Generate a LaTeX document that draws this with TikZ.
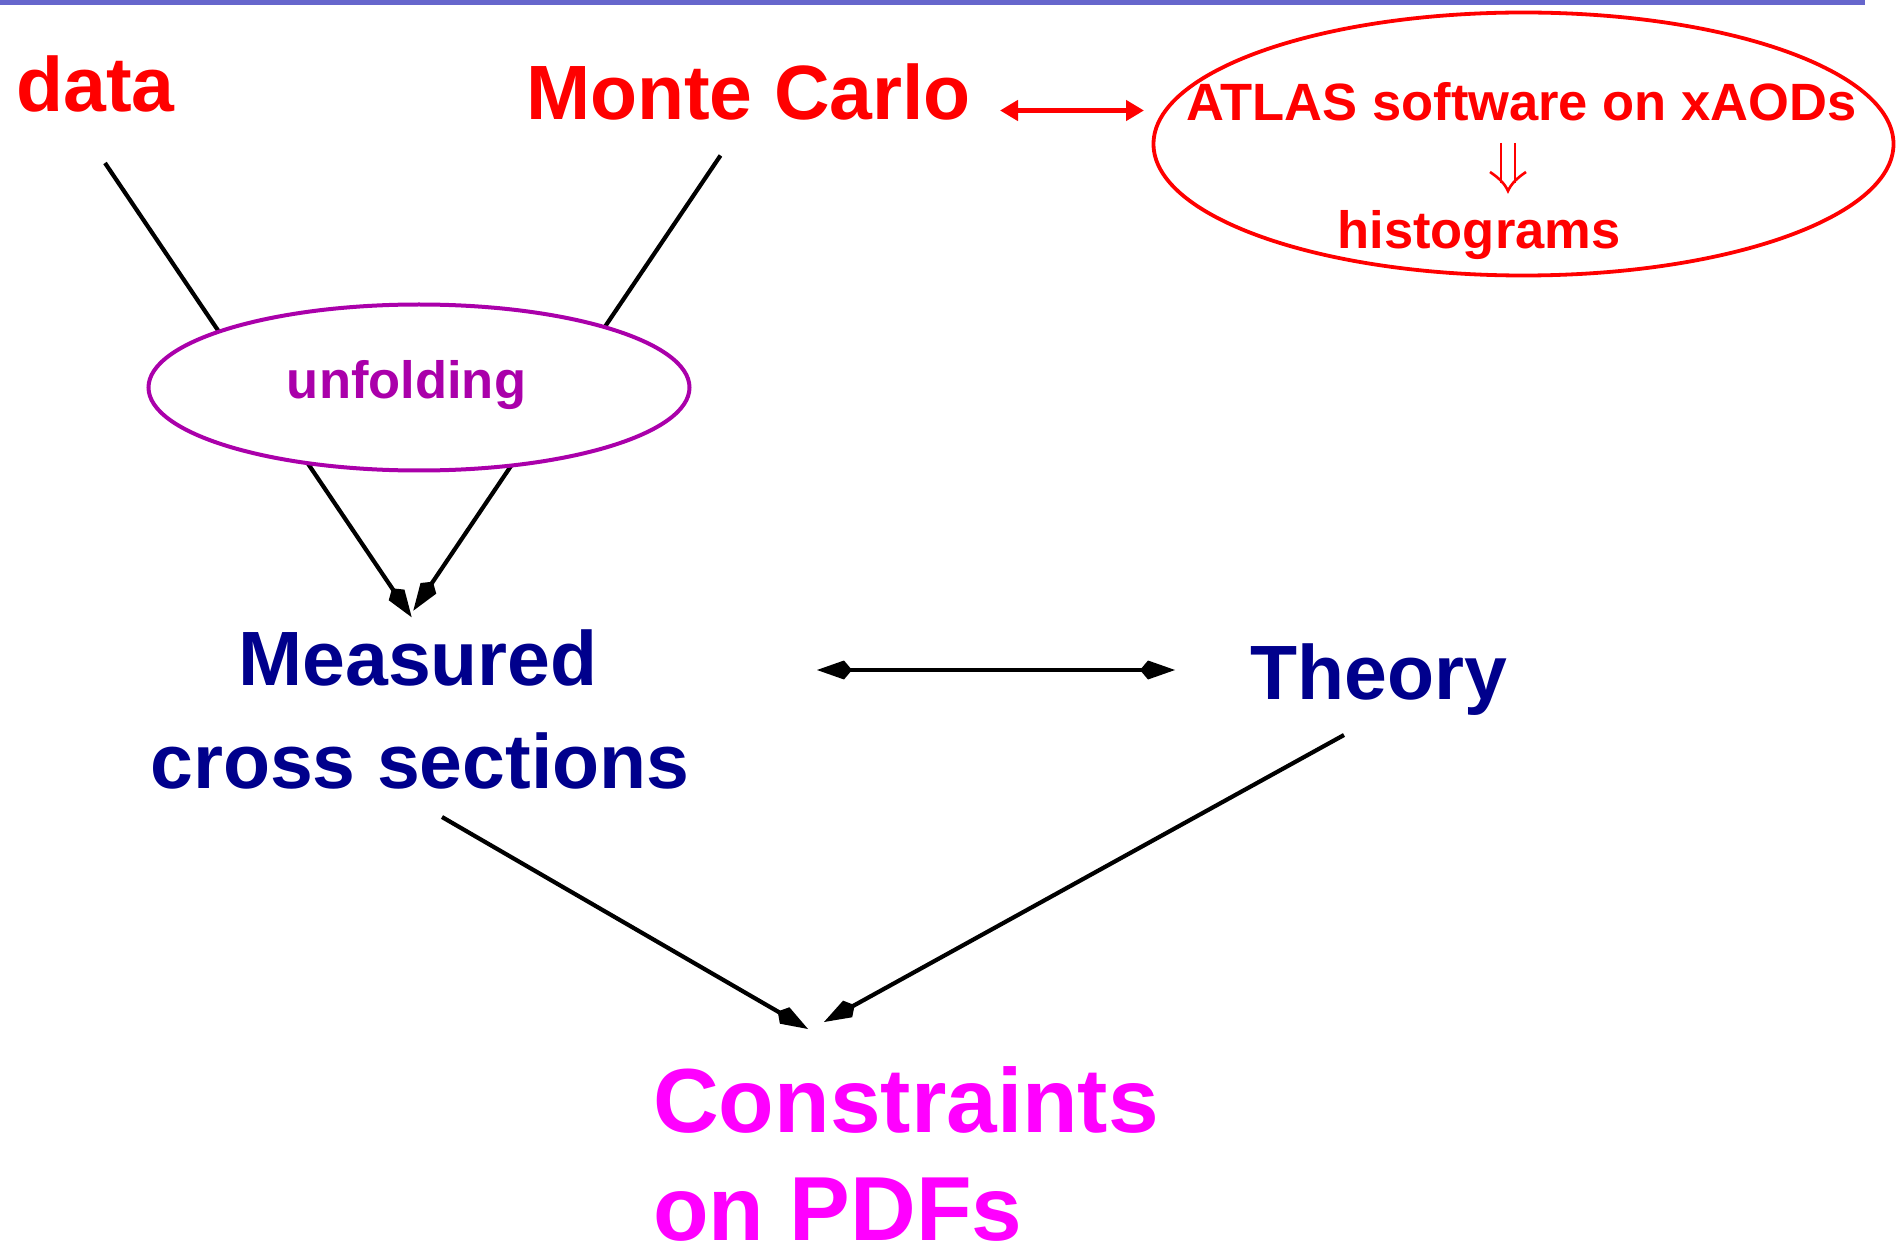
\documentclass[tikz,border=0pt]{standalone}
\usepackage{fontspec}
\setmainfont{Liberation Sans}
\usetikzlibrary{arrows.meta,shapes.geometric}
\definecolor{band}{RGB}{102,102,204}
\definecolor{navy}{RGB}{0,0,140}
\definecolor{purp}{RGB}{170,0,170}
\definecolor{mag}{RGB}{255,0,255}
\tikzset{
  big/.style={font=\fontsize{77}{90}\selectfont\bfseries, inner sep=0pt},
  huge/.style={font=\fontsize{91}{100}\selectfont\bfseries, inner sep=0pt},
  small/.style={font=\fontsize{52.5}{60}\selectfont\bfseries, inner sep=0pt},
  conn/.style={line width=4.2pt, black},
  kitetip/.style={-{Kite[length=35pt,width=19pt,inset=8pt]}},
  bothkite/.style={{Kite[length=35pt,width=19pt,inset=8pt]}-{Kite[length=35pt,width=19pt,inset=8pt]}},
  oval/.style={ellipse, draw, fill=white, inner sep=0pt}
}
\begin{document}
\begin{tikzpicture}[x=1pt,y=-1pt]
\useasboundingbox (0,0) rectangle (1899,1246);
\fill[band] (0,0) rectangle (1865,5);

% texts
\node[big, red, anchor=base west] (data) at (16,112) {data};
\node[big, red, anchor=base] (mc) at (748.5,120) {Monte Carlo};
\node[big, navy, anchor=base] (meas) at (418,685) {Measured};
\node[big, navy, anchor=base] (meascs) at (420,788) {cross sections};
\node[big, navy, anchor=base] (theory) at (1379,699) {Theory};
\node[huge, mag, anchor=base west] (constr) at (653,1132) {Constraints};
\node[huge, mag, anchor=base west] (constrb) at (653,1240) {on PDFs};

% connector end points
\coordinate (dataS) at (105,163);
\coordinate (measL) at (411.7,617.3);
\coordinate (mcS) at (720.5,155.5);
\coordinate (measR) at (413.3,610.7);
\coordinate (csS) at (442,817);
\coordinate (conL) at (808,1029);
\coordinate (thS) at (1344,735);
\coordinate (conR) at (824,1022);
\coordinate (cmpL) at (817,670);
\coordinate (cmpR) at (1175,670);
\coordinate (mcR) at (1000,110.5);
\coordinate (atL) at (1144,110.5);

\draw[conn, kitetip] (dataS) -- (measL);
\draw[conn, kitetip] (mcS) -- (measR);
\draw[conn, kitetip] (csS) -- (conL);
\draw[conn, kitetip] (thS) -- (conR);
\draw[conn, bothkite] (cmpL) -- (cmpR);
\draw[red, line width=5pt, {Triangle[length=18pt,width=20pt]}-{Triangle[length=18pt,width=20pt]}] (mcR) -- (atL);

% unfolding ellipse
\node[oval, draw=purp, line width=4pt, minimum width=541pt, minimum height=166pt] (unf) at (419,387.5) {};
\node[small, purp, anchor=base] (unft) at (406.5,399) {unfolding};

% ATLAS ellipse
\node[oval, draw=red, line width=3.8pt, minimum width=740pt, minimum height=263pt] (atlas) at (1523.5,144) {};
\node[small, red, anchor=base] (atlast) at (1521.6,120.7) {ATLAS software on xAODs};
% double down arrow glyph
\begin{scope}[red, line width=2.6pt, line cap=butt]
  \draw (1501,143) -- (1501,183);
  \draw (1515,143) -- (1515,183);
  \draw (1490,172) .. controls (1499,178) and (1505,184) .. (1508,191)
                   .. controls (1511,184) and (1517,178) .. (1526,172);
\end{scope}
\node[small, red, anchor=base] (hist) at (1479,249) {histograms};
\end{tikzpicture}
\end{document}
